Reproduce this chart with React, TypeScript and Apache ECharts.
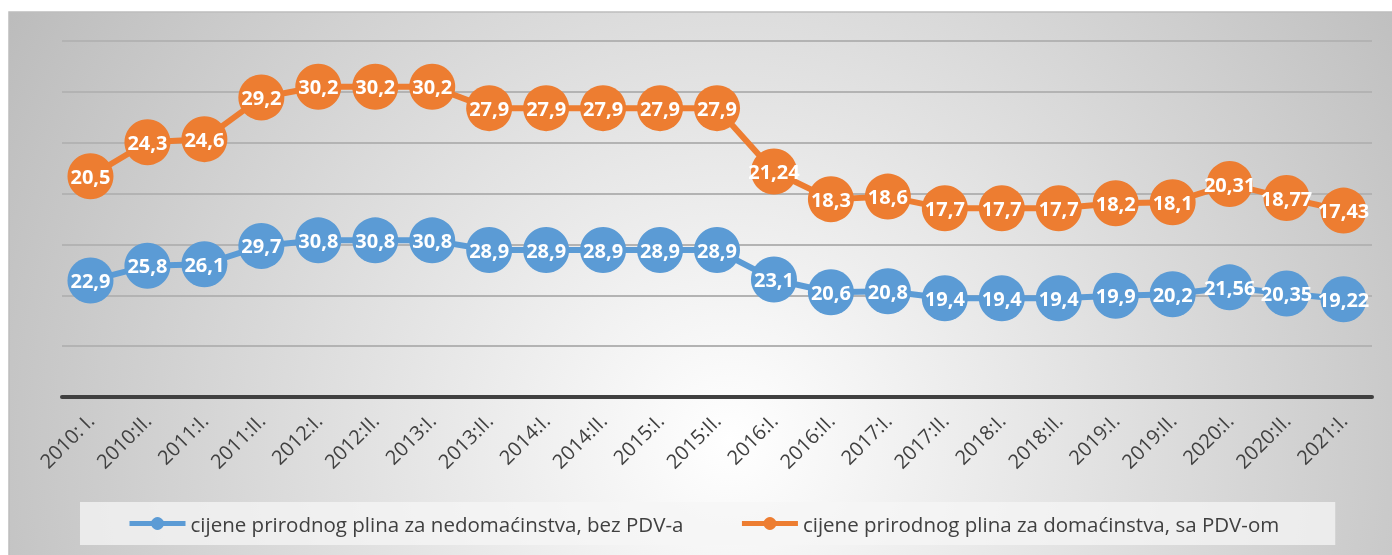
import React, { useEffect, useRef } from 'react';
import * as echarts from 'echarts';

const categories = [
  '2010: I.', '2010:II.', '2011:I.', '2011:II.', '2012:I.', '2012:II.', '2013:I.', '2013:II.',
  '2014:I.', '2014:II.', '2015:I.', '2015:II.', '2016:I.', '2016:II.', '2017:I.', '2017:II.',
  '2018:I.', '2018:II.', '2019:I.', '2019:II.', '2020:I.', '2020:II.', '2021:I.',
];

const nonHousehold = [
  22.9, 25.8, 26.1, 29.7, 30.8, 30.8, 30.8, 28.9, 28.9, 28.9, 28.9, 28.9,
  23.1, 20.6, 20.8, 19.4, 19.4, 19.4, 19.9, 20.2, 21.56, 20.35, 19.22,
];

const household = [
  20.5, 24.3, 24.6, 29.2, 30.2, 30.2, 30.2, 27.9, 27.9, 27.9, 27.9, 27.9,
  21.24, 18.3, 18.6, 17.7, 17.7, 17.7, 18.2, 18.1, 20.31, 18.77, 17.43,
];

const seriesNames = [
  'cijene prirodnog plina za nedomaćinstva, bez PDV-a',
  'cijene prirodnog plina za domaćinstva, sa PDV-om',
];

const yMin = 0;
const yMax = 70;
const yInterval = 10;

export default function App() {
  const ref = useRef<HTMLDivElement>(null);

  useEffect(() => {
    if (!ref.current) return;
    const chart = echarts.init(ref.current, null, { renderer: 'svg' });
    const fmt = (p: any) => String(p.value).replace('.', ',');
    const font = "'Open Sans', 'Noto Sans', sans-serif";

    const makeSeries = (name: string, data: number[], color: string) => ({
      name,
      type: 'line',
      stack: 'total',
      data,
      symbol: 'circle',
      symbolSize: 46,
      showAllSymbol: true,
      lineStyle: { color, width: 6 },
      itemStyle: { color },
      label: {
        show: true,
        position: 'inside',
        formatter: fmt,
        color: '#ffffff',
        fontWeight: 'bold',
        fontSize: 20,
        fontFamily: font,
      },
      emphasis: { disabled: true },
    });

    chart.setOption({
      animation: false,
      textStyle: { fontFamily: font },
      graphic: [
        {
          type: 'rect',
          z: -100,
          silent: true,
          shape: { x: 9, y: 12, width: 1400, height: 560 },
          style: {
            fill: new echarts.graphic.RadialGradient(730, 440, 860, [
              { offset: 0, color: '#ffffff' },
              { offset: 1, color: '#bababa' },
            ], true),
            stroke: '#bdbdbd',
            lineWidth: 1.5,
          },
        },
      ],
      grid: { left: 62, right: 20, top: 41, bottom: 158, containLabel: false },
      xAxis: {
        type: 'category',
        data: categories,
        boundaryGap: true,
        axisLine: { show: true, lineStyle: { color: '#404040', width: 4 } },
        axisTick: { show: false },
        axisLabel: {
          interval: 0,
          rotate: 45,
          margin: 20,
          color: '#404040',
          fontSize: 20,
          fontFamily: font,
        },
      },
      yAxis: {
        type: 'value',
        min: yMin,
        max: yMax,
        interval: yInterval,
        axisLine: { show: false },
        axisTick: { show: false },
        axisLabel: { show: false },
        splitLine: { show: true, lineStyle: { color: '#b3b3b3', width: 2 } },
      },
      legend: {
        data: seriesNames,
        left: 80,
        top: 502,
        padding: [11, 56, 11, 47],
        backgroundColor: 'rgba(245,245,245,0.75)',
        itemWidth: 56,
        itemHeight: 16,
        itemGap: 56,
        lineStyle: { width: 5 },
        textStyle: { color: '#404040', fontSize: 20.5, fontFamily: font },
      },
      series: [
        makeSeries(seriesNames[0], nonHousehold, '#5B9BD5'),
        makeSeries(seriesNames[1], household, '#ED7D31'),
      ],
    });

    return () => chart.dispose();
  }, []);

  return (
    <div
      ref={ref}
      style={{ position: 'fixed', left: 0, top: 0, width: 1392, height: 555 }}
    />
  );
}
